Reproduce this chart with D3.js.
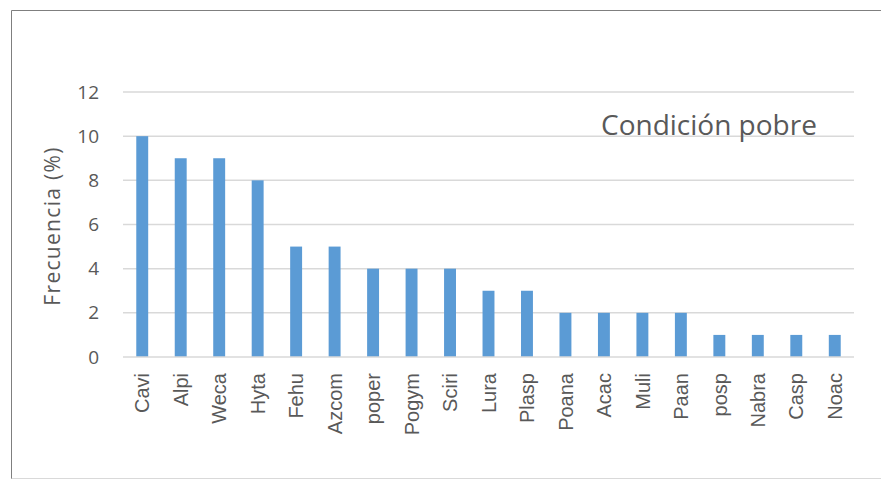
<!DOCTYPE html>
<html>
<head>
<meta charset="utf-8">
<script src="https://cdn.jsdelivr.net/npm/d3@7"></script>
<style>
  html, body { margin: 0; padding: 0; background: #fff; }
  svg { display: block; }
</style>
</head>
<body>
<svg id="chart" width="881" height="480"></svg>
<script>
// Species codes and their frequency (%) under poor condition
const categories = ["Cavi", "Alpi", "Weca", "Hyta", "Fehu", "Azcom", "poper", "Pogym", "Sciri",
  "Lura", "Plasp", "Poana", "Acac", "Muli", "Paan", "posp", "Nabra", "Casp", "Noac"];
const frequency = [10, 9, 9, 8, 5, 5, 4, 4, 4, 3, 3, 2, 2, 2, 2, 1, 1, 1, 1];
const yTicks = [0, 2, 4, 6, 8, 10, 12];
const yLabel = "Frecuencia (%)";
const chartNote = "Condición pobre";

const svg = d3.select("#chart");
const plot = { left: 123, right: 854, top: 92, bottom: 357 };

// Outer frame
svg.append("line").attr("x1", 11.5).attr("x2", 881).attr("y1", 10.5).attr("y2", 10.5)
  .attr("stroke", "#7f7f7f").attr("stroke-width", 1);
svg.append("line").attr("x1", 11.5).attr("x2", 11.5).attr("y1", 10.5).attr("y2", 479)
  .attr("stroke", "#7f7f7f").attr("stroke-width", 1);
svg.append("line").attr("x1", 11.5).attr("x2", 881).attr("y1", 478.5).attr("y2", 478.5)
  .attr("stroke", "#d9d9d9").attr("stroke-width", 1);

const x = d3.scaleBand().domain(categories).range([plot.left, plot.right]).paddingInner(0.69).paddingOuter(0.345);
const y = d3.scaleLinear().domain([0, 12]).range([plot.bottom, plot.top]);

// Horizontal gridlines
svg.append("g").selectAll("line").data(yTicks.filter(t => t > 0)).join("line")
  .attr("x1", plot.left).attr("x2", plot.right)
  .attr("y1", d => y(d)).attr("y2", d => y(d))
  .attr("stroke", "#d9d9d9").attr("stroke-width", 1.5);

// Bars
svg.append("g").selectAll("rect").data(frequency).join("rect")
  .attr("x", (d, i) => x(categories[i]))
  .attr("width", x.bandwidth())
  .attr("y", d => y(d))
  .attr("height", d => y(0) - y(d))
  .attr("fill", "#5b9bd5");

// Category axis
const xAxis = svg.append("g").attr("transform", `translate(0,${plot.bottom})`)
  .call(d3.axisBottom(x).tickSize(0).tickPadding(0));
xAxis.select(".domain").attr("stroke", "#d9d9d9").attr("stroke-width", 1.5)
  .attr("d", `M${plot.left},0H${plot.right}`);
xAxis.selectAll("text")
  .attr("font-family", "'Liberation Sans', Arial, sans-serif")
  .attr("font-size", 20)
  .attr("fill", "#595959")
  .attr("text-anchor", "end")
  .attr("transform", "translate(0,16) rotate(-90)")
  .attr("x", 0).attr("y", 0).attr("dy", "0.36em");

// Value axis
const yAxis = svg.append("g").attr("transform", `translate(${plot.left},0)`)
  .call(d3.axisLeft(y).tickValues(yTicks).tickSize(0).tickPadding(24));
yAxis.select(".domain").remove();
yAxis.selectAll("text")
  .attr("font-family", "'Open Sans', sans-serif")
  .attr("font-size", 19)
  .attr("fill", "#595959");

// Axis title
svg.append("text")
  .attr("transform", "translate(60,226) rotate(-90)")
  .attr("text-anchor", "middle")
  .attr("font-family", "'Open Sans', sans-serif")
  .attr("font-size", 21)
  .attr("letter-spacing", 1.3)
  .attr("fill", "#595959")
  .text(yLabel);

// Condition note inside the plot
svg.append("text")
  .attr("x", 601).attr("y", 135)
  .attr("font-family", "'Open Sans', sans-serif")
  .attr("font-size", 28)
  .attr("fill", "#595959")
  .text(chartNote);
</script>
</body>
</html>
